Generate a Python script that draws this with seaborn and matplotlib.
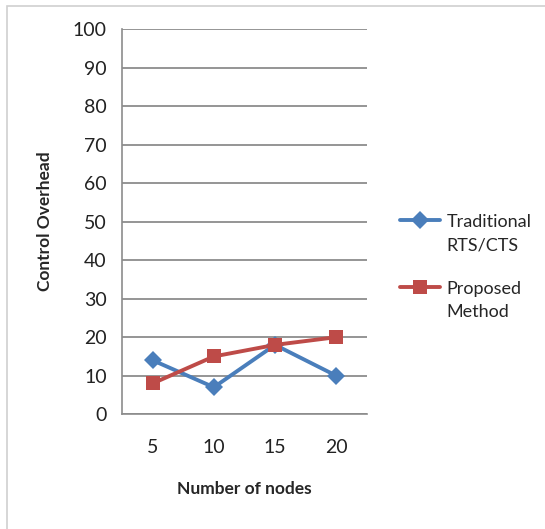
import pandas as pd
import numpy as np
import seaborn as sns
import matplotlib.pyplot as plt
from matplotlib.patches import Rectangle
from matplotlib.lines import Line2D
from matplotlib.legend_handler import HandlerLine2D

# data
nodes = ['5', '10', '15', '20']
traditional = [14, 7, 18, 10]
proposed = [8, 15, 18, 20]
series_names = ['Traditional\nRTS/CTS', 'Proposed\nMethod']

df = pd.DataFrame({
    'pos': list(range(len(nodes))) * 2,
    'value': traditional + proposed,
    'series': [series_names[0]] * len(nodes) + [series_names[1]] * len(nodes),
})

sns.set_style('white')
plt.rcParams['font.family'] = ['Lato', 'DejaVu Sans']

fig = plt.figure(figsize=(5.45, 5.29), dpi=100)
ax = fig.add_axes([0.224, 0.217, 0.449, 0.728])

# outer chart frame
fig.patches.append(Rectangle((0.013, -0.05), 1.1, 1.039, transform=fig.transFigure,
                             fill=False, edgecolor='#d0d0d0', linewidth=1.2))

sns.lineplot(data=df, x='pos', y='value', hue='series', style='series',
             palette=['#4a7ebb', '#be4b48'], markers=['D', 's'], dashes=False,
             markersize=9.5, linewidth=2.8, markeredgewidth=0, ax=ax, legend=True)

ax.set_ylim(0, 100)
ax.set_yticks(np.arange(0, 101, 10))
ax.set_xlim(-0.5, len(nodes) - 0.5)
ax.set_xticks(range(len(nodes)))
ax.set_xticklabels(nodes)
ax.set_xticks(np.arange(-0.5, len(nodes), 1), minor=True)
ax.tick_params(axis='x', which='major', length=0, pad=18, labelsize=14, colors='#222222')
ax.tick_params(axis='x', which='minor', length=6, width=1.2, color='#8c8c8c', direction='out')
ax.tick_params(axis='y', length=6, width=1.2, color='#8c8c8c', direction='out',
               labelsize=14, labelcolor='#222222', pad=5)

ax.yaxis.grid(True, color='#8c8c8c', linewidth=1.3)
ax.set_axisbelow(True)
for side in ['top', 'right']:
    ax.spines[side].set_visible(False)
for side in ['left', 'bottom']:
    ax.spines[side].set_color('#8c8c8c')
    ax.spines[side].set_linewidth(1.2)

ax.set_xlabel('Number of nodes', fontsize=12.5, fontweight='bold', labelpad=18)
ax.set_ylabel('Control Overhead', fontsize=12.5, fontweight='bold', labelpad=14)


# raise legend handles so they sit next to the first text line
def lift_handle(legend_handle, orig_handle):
    legend_handle.update_from(orig_handle)
    legend_handle.set_ydata(np.asarray(legend_handle.get_ydata()) + 10)


handles, labels = ax.get_legend_handles_labels()
ax.legend_.remove()
leg = fig.legend(handles, labels, loc='center left', bbox_to_anchor=(0.705, 0.495),
                 frameon=False, fontsize=13, handlelength=2.2, labelspacing=1.5,
                 handletextpad=0.35,
                 handler_map={Line2D: HandlerLine2D(update_func=lift_handle)})
for t in leg.get_texts():
    t.set_linespacing(1.55)

plt.savefig('out.png', dpi=100)
